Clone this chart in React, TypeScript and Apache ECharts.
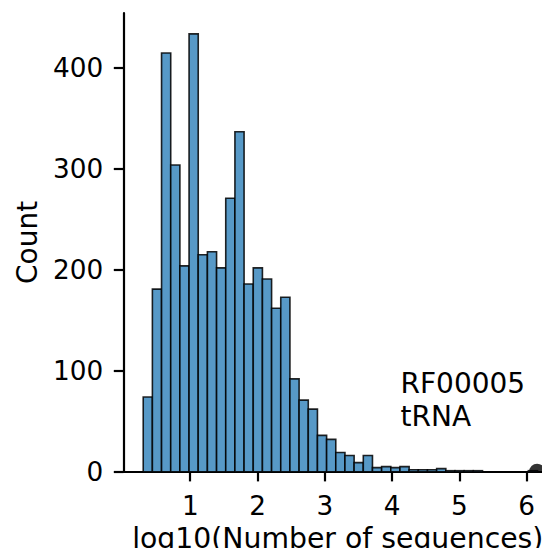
import React, { useEffect, useRef } from "react";
import * as echarts from "echarts";

// Histogram of log10(Number of sequences) per Rfam family
const BIN_START = 0.301;
const BIN_WIDTH = 0.1363;
const COUNTS = [
  74, 181, 415, 304, 204, 434, 215, 218, 202, 271,
  337, 186, 202, 191, 162, 173, 92, 71, 62, 36,
  32, 19, 16, 9, 16, 4, 5, 4, 5, 2,
  2, 2, 3, 1, 1, 1, 1, 0, 0, 0,
  0, 0, 1,
];
const X_TICKS = [1, 2, 3, 4, 5, 6];
const Y_TICKS = [0, 100, 200, 300, 400];
const X_MIN = 0.008;
const X_MAX = 6.377;
const Y_MAX = 454.7;
const HIGHLIGHT_X = 6.156; // RF00005 tRNA
const HIGHLIGHT_LABEL = "RF00005\ntRNA";
const X_NAME = "log10(Number of sequences)";
const Y_NAME = "Count";

const FONT = "DejaVu Sans";
const FS = 28;
const TICK_FS = 26.3;

export default function App() {
  const ref = useRef<HTMLDivElement>(null);
  useEffect(() => {
    if (!ref.current) return;
    const chart = echarts.init(ref.current, null, { renderer: "svg" });
    const bins = COUNTS.map((c, i) => [
      BIN_START + i * BIN_WIDTH,
      BIN_START + (i + 1) * BIN_WIDTH,
      c,
    ]);
    chart.setOption({
      animation: false,
      backgroundColor: "#ffffff",
      textStyle: { fontFamily: FONT },
      grid: {
        left: 123.5,
        right: -2,
        top: 13,
        bottom: 84.3,
        containLabel: false,
        outerBoundsMode: "none",
      },
      xAxis: {
        type: "value",
        min: X_MIN,
        max: X_MAX,
        splitLine: { show: false },
        axisLine: { show: true, onZero: false, lineStyle: { color: "#000", width: 2.2 } },
        axisTick: {
          show: true,
          length: 9.7,
          lineStyle: { color: "#000", width: 2.2 },
          customValues: X_TICKS,
        },
        axisLabel: {
          customValues: X_TICKS,
          margin: 21.5,
          color: "#000",
          fontSize: TICK_FS,
          fontFamily: FONT,
        },
        name: X_NAME,
        nameLocation: "middle",
        nameGap: 52,
        nameTextStyle: { color: "#000", fontSize: 28.3, fontFamily: FONT },
      },
      yAxis: {
        type: "value",
        min: 0,
        max: Y_MAX,
        splitLine: { show: false },
        axisLine: { show: true, lineStyle: { color: "#000", width: 2.2 } },
        axisTick: {
          show: true,
          length: 9.7,
          lineStyle: { color: "#000", width: 2.2 },
          customValues: Y_TICKS,
        },
        axisLabel: {
          customValues: Y_TICKS,
          margin: 20.2,
          color: "#000",
          fontSize: TICK_FS,
          fontFamily: FONT,
        },
        name: Y_NAME,
        nameLocation: "middle",
        nameRotate: 90,
        nameGap: 82,
        nameTextStyle: { color: "#000", fontSize: FS, fontFamily: FONT },
      },
      series: [
        {
          type: "custom",
          data: bins,
          encode: { x: [0, 1], y: 2 },
          renderItem: (params: any, api: any) => {
            const p0 = api.coord([api.value(0), api.value(2)]);
            const p1 = api.coord([api.value(1), 0]);
            return {
              type: "rect",
              shape: { x: p0[0], y: p0[1], width: p1[0] - p0[0], height: p1[1] - p0[1] },
              style: { fill: "#5799c7", stroke: "rgba(0,0,0,0.85)", lineWidth: 1.6 },
            };
          },
          z: 2,
        },
        {
          type: "scatter",
          data: [[HIGHLIGHT_X, 0]],
          symbol: "path://M0,10 A10,10 0 0 1 20,10 Z",
          symbolSize: [16, 8],
          symbolOffset: [0, -4],
          itemStyle: { color: "#000" },
          z: 5,
        },
      ],
      graphic: [
        {
          type: "text",
          left: 400.5,
          top: 367.5,
          z: 10,
          style: {
            text: HIGHLIGHT_LABEL,
            fill: "#000",
            font: `${FS}px "${FONT}"`,
            lineHeight: 32.8,
          },
        },
      ],
    });
    return () => chart.dispose();
  }, []);
  return <div ref={ref} style={{ width: 550, height: 556, margin: -8, overflow: "hidden" }} />;
}
